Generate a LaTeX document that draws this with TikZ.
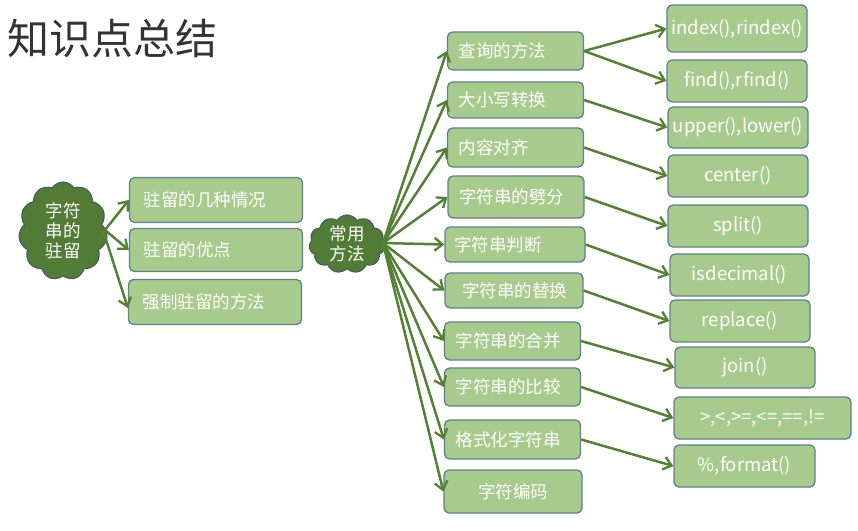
\documentclass[tikz,border=0pt]{standalone}
\usepackage{fontspec}
\setmainfont{Noto Sans CJK SC}
\usetikzlibrary{shapes.symbols,arrows.meta}
\definecolor{boxfill}{HTML}{A7CB8C}
\definecolor{boxline}{HTML}{60808A}
\definecolor{arr}{HTML}{548235}
\definecolor{cloudfill}{HTML}{527C35}
\definecolor{cloudline}{HTML}{41625A}
\tikzset{
  box/.style={draw=boxline, line width=1.3pt, fill=boxfill, rounded corners=5pt,
    text=white, font=\fontsize{17.5}{19}\selectfont, inner ysep=0pt},
  lbox/.style={box, minimum width=173pt, text width=145pt, inner xsep=14pt, align=left},
  mbox/.style={box, minimum width=136pt, text width=114pt, inner xsep=11pt, align=left},
  rbox/.style={box, minimum width=140pt, align=center, font=\fontsize{18.5}{20}\selectfont},
  cloudnode/.style={cloud, cloud puffs=11, cloud puff arc=115, draw=cloudline,
    line width=1.2pt, fill=cloudfill, text=white, align=center,
    font=\fontsize{17.5}{20}\selectfont, inner sep=0pt},
  conn/.style={draw=arr, line width=2.5pt, -{Straight Barb[length=8pt,width=13pt,line width=2.3pt]}}
}
\begin{document}
\begin{tikzpicture}[x=1pt,y=-1pt]
\useasboundingbox (0,0) rectangle (858,530);
\fill[white] (0,0) rectangle (858,530);
\node[font=\fontsize{42}{44}\selectfont, text=black!80] (title) at (112,38) {知识点总结};

% clouds
\node[cloudnode, minimum width=87pt, minimum height=98pt] (c1) at (63,231) {字符\\串的\\驻留};
\node[cloudnode, minimum width=76pt, minimum height=58pt] (c2) at (347,244) {常用\\方法};

% left boxes
\node[lbox, minimum height=45pt] (a1) at (216,200) {驻留的几种情况};
\node[lbox, minimum height=43pt] (a2) at (216,250) {驻留的优点};
\node[lbox, minimum height=45pt] (a3) at (215,302) {强制驻留的方法};

% middle boxes
\node[mbox, minimum height=38pt] (m1) at (515.5,51) {查询的方法};
\node[mbox, minimum height=36pt] (m2) at (515.5,100) {大小写转换};
\node[mbox, minimum height=39pt] (m3) at (515.5,147.5) {内容对齐};
\node[mbox, minimum height=42pt] (m4) at (516,197) {字符串的劈分};
\node[mbox, minimum width=140pt, text width=122pt, inner xsep=9pt, minimum height=35pt] (m5) at (515,244.5) {字符串判断};
\node[mbox, minimum width=138pt, text width=104pt, inner xsep=17pt, minimum height=35pt] (m6) at (514,290.5) {字符串的替换};
\node[mbox, minimum height=38pt] (m7) at (512.5,341) {字符串的合并};
\node[mbox, minimum height=38pt] (m8) at (512.5,387) {字符串的比较};
\node[mbox, minimum height=39pt] (m9) at (512.5,439.5) {格式化字符串};
\node[mbox, minimum width=138pt, align=center, minimum height=43pt] (m10) at (513,491.5) {字符编码};

% right boxes
\node[rbox, minimum height=47pt] (r1) at (737,28.5) {index(),rindex()};
\node[rbox, minimum height=42pt] (r2) at (737,81) {find(),rfind()};
\node[rbox, minimum height=41pt] (r3) at (738,127.5) {upper(),lower()};
\node[rbox, minimum height=42pt] (r4) at (738,176) {center()};
\node[rbox, minimum height=42pt] (r5) at (738,226) {split()};
\node[rbox, minimum width=139pt, minimum height=42pt] (r6) at (739.5,275) {isdecimal()};
\node[rbox, minimum height=42pt] (r7) at (740,321) {replace()};
\node[rbox, minimum height=41pt] (r8) at (745,367.5) {join()};
\node[rbox, minimum width=177pt, minimum height=42pt] (r9) at (762.5,418) {>,<,>=,<=,==,!=};
\node[rbox, minimum width=141pt, minimum height=42pt] (r10) at (744.5,466) {\%,format()};

% connectors from left cloud
\coordinate (s1) at (105,230);
\draw[conn] (s1) -- (a1.west);
\draw[conn] (s1) -- (a2.west);
\draw[conn] ([xshift=-2pt]s1) -- ([yshift=-6pt]a3.west);

% connectors from right cloud
\coordinate (s2) at (383,243);
\foreach \m in {m1,m2,m3,m4,m5,m6,m7,m8,m9,m10}{
  \draw[conn] (s2) -- (\m.west);
}

% middle to right
\draw[conn] (m1.east) -- (r1.west);
\draw[conn] (m1.east) -- (r2.west);
\draw[conn] (m2.east) -- (r3.west);
\draw[conn] (m3.east) -- (r4.west);
\draw[conn] (m4.east) -- (r5.west);
\draw[conn] (m5.east) -- (r6.west);
\draw[conn] (m6.east) -- (r7.west);
\draw[conn] (m7.east) -- (r8.west);
\draw[conn] (m8.east) -- (r9.west);
\draw[conn] (m9.east) -- (r10.west);
\end{tikzpicture}
\end{document}
